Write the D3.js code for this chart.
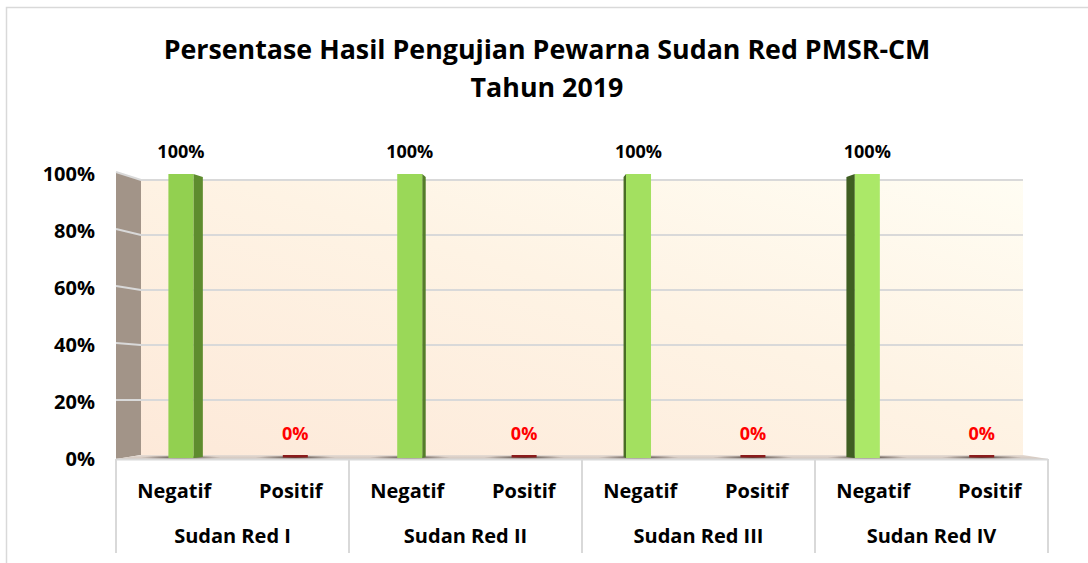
<!DOCTYPE html>
<html>
<head>
<meta charset="utf-8">
<script src="https://cdn.jsdelivr.net/npm/d3@7/dist/d3.min.js"></script>
<style>
  html, body { margin: 0; padding: 0; background: #fff; }
  svg text { font-family: "Open Sans", "Noto Sans", sans-serif; font-weight: bold; }
</style>
</head>
<body>
<svg id="chart" width="1088" height="563"></svg>
<script>
// ── data ──
const titleLines = ['Persentase Hasil Pengujian Pewarna Sudan Red PMSR-CM', 'Tahun 2019'];
const groups = ['Sudan Red I', 'Sudan Red II', 'Sudan Red III', 'Sudan Red IV'];
const subcats = ['Negatif', 'Positif'];
const negatif = [100, 100, 100, 100];
const positif = [0, 0, 0, 0];
const yTicks = [0, 20, 40, 60, 80, 100];

const svg = d3.select('#chart');
const defs = svg.append('defs');

// chart frame
svg.append('rect').attr('x', 6.5).attr('y', 7.5).attr('width', 1100).attr('height', 600)
  .attr('fill', '#fff').attr('stroke', '#d9d9d9').attr('stroke-width', 1.5);

// front plane (axes) and back wall
const front = { x0: 116, x1: 1048 };
const back = { x0: 141, x1: 1023 };
const yF = d3.scaleLinear().domain([0, 100]).range([459, 174]);
const yB = d3.scaleLinear().domain([0, 100]).range([455, 180]);

const xGroup = d3.scaleBand().domain(groups).range([front.x0, front.x1]).padding(0);
const xSub = d3.scaleBand().domain(subcats).range([0, xGroup.bandwidth()]).padding(0);

// perspective: things further back pull toward the vanishing point
const vx = 544, depthK = 0.982;
const proj = x => vx + (x - vx) * depthK;

// gradients
const wallGrad = defs.append('linearGradient').attr('id', 'wall')
  .attr('x1', 0).attr('y1', 1).attr('x2', 1).attr('y2', 0);
wallGrad.append('stop').attr('offset', '0%').attr('stop-color', '#fde9d9');
wallGrad.append('stop').attr('offset', '55%').attr('stop-color', '#fef3e4');
wallGrad.append('stop').attr('offset', '100%').attr('stop-color', '#fffdf3');

const floorGrad = defs.append('linearGradient').attr('id', 'floor')
  .attr('x1', 0).attr('y1', 0).attr('x2', 0).attr('y2', 1);
floorGrad.append('stop').attr('offset', '0%').attr('stop-color', '#e6dcd4');
floorGrad.append('stop').attr('offset', '100%').attr('stop-color', '#cfc3ba');

const shadowGrad = defs.append('radialGradient').attr('id', 'shadow');
shadowGrad.append('stop').attr('offset', '0%').attr('stop-color', '#3a2f2a').attr('stop-opacity', 0.85);
shadowGrad.append('stop').attr('offset', '100%').attr('stop-color', '#3a2f2a').attr('stop-opacity', 0);

const g = svg.append('g');

// back wall
g.append('rect').attr('x', back.x0).attr('y', yB(100))
  .attr('width', back.x1 - back.x0).attr('height', yB(0) - yB(100))
  .attr('fill', 'url(#wall)');

// side wall
g.append('path')
  .attr('d', `M${front.x0},${yF(100) - 2} L${back.x0},${yB(100)} L${back.x0},${yB(0)} L${front.x0},${yF(0)} Z`)
  .attr('fill', '#a29488');

// floor
g.append('path')
  .attr('d', `M${front.x0},${yF(0)} L${back.x0},${yB(0)} L${back.x1},${yB(0)} L${front.x1},${yF(0)} Z`)
  .attr('fill', 'url(#floor)');

// gridlines (back wall + side wall)
yTicks.forEach(t => {
  if (t === 0) return;
  g.append('path')
    .attr('d', `M${front.x0},${yF(t) - 2} L${back.x0},${yB(t)} L${back.x1},${yB(t)}`)
    .attr('fill', 'none').attr('stroke', '#d9d9d9').attr('stroke-width', 2);
});

// y axis labels
g.selectAll('.ylab').data(yTicks).enter().append('text')
  .attr('class', 'ylab')
  .attr('x', 95).attr('y', d => yF(d) + 7)
  .attr('text-anchor', 'end').attr('font-size', 20).attr('fill', '#000')
  .text(d => d + '%');

// bars
const barW = 25;
groups.forEach((grp, i) => {
  const gx = xGroup(grp);
  [negatif[i], positif[i]].forEach((v, j) => {
    const cx = proj(gx + xSub(subcats[j]) + xSub.bandwidth() / 2);
    const x0 = cx - barW / 2, x1 = cx + barW / 2;
    const yTop = yF(v), yBot = yF(0) - 1;

    // floor shadow
    g.append('ellipse').attr('cx', cx).attr('cy', yBot - 0.5)
      .attr('rx', barW * 1.6).attr('ry', 2.2).attr('fill', 'url(#shadow)');

    if (v <= 0) {
      g.append('rect').attr('x', x0).attr('y', yBot - 3).attr('width', barW).attr('height', 2.5)
        .attr('fill', '#8b1c1c');
      g.append('text').attr('x', cx).attr('y', yF(0) - 19)
        .attr('text-anchor', 'middle').attr('font-size', 18).attr('fill', '#ff0000')
        .text(v + '%');
      return;
    }

    const side = (vx - cx) * 0.026; // >0: right face visible, <0: left face
    const light = d3.interpolateRgb('#92d050', '#abe868')(i / (groups.length - 1));
    const dark = d3.interpolateRgb('#5e8c2e', '#3f5e22')(i / (groups.length - 1));
    if (side > 0.5) {
      g.append('path')
        .attr('d', `M${x1},${yTop} L${x1 + side},${yTop + 3} L${x1 + side},${yBot - 1} L${x1},${yBot} Z`)
        .attr('fill', dark);
    } else if (side < -0.5) {
      g.append('path')
        .attr('d', `M${x0},${yTop} L${x0 + side},${yTop + 3} L${x0 + side},${yBot - 1} L${x0},${yBot} Z`)
        .attr('fill', dark);
    }
    g.append('rect').attr('x', x0).attr('y', yTop).attr('width', barW).attr('height', yBot - yTop)
      .attr('fill', light);

    g.append('text').attr('x', cx).attr('y', yTop - 16)
      .attr('text-anchor', 'middle').attr('font-size', 18).attr('fill', '#000')
      .text(v + '%');
  });
});

// category axis
g.append('line').attr('x1', front.x0).attr('x2', front.x1).attr('y1', yF(0) + 0.5).attr('y2', yF(0) + 0.5)
  .attr('stroke', '#d9d9d9').attr('stroke-width', 2);
const seps = groups.map(d => xGroup(d)).concat([front.x1]);
g.selectAll('.sep').data(seps).enter().append('line')
  .attr('x1', d => d).attr('x2', d => d).attr('y1', yF(0)).attr('y2', 553)
  .attr('stroke', '#d9d9d9').attr('stroke-width', 2);

groups.forEach(grp => {
  const gx = xGroup(grp);
  subcats.forEach(s => {
    g.append('text').attr('x', gx + xSub(s) + xSub.bandwidth() / 2).attr('y', 498)
      .attr('text-anchor', 'middle').attr('font-size', 20).attr('fill', '#000')
      .text(s);
  });
  g.append('text').attr('x', gx + xGroup.bandwidth() / 2).attr('y', 543)
    .attr('text-anchor', 'middle').attr('font-size', 20).attr('fill', '#000')
    .text(grp);
});

// title
svg.selectAll('.title').data(titleLines).enter().append('text')
  .attr('class', 'title')
  .attr('x', 547).attr('y', (d, i) => 59 + i * 38)
  .attr('text-anchor', 'middle').attr('font-size', 26.8).attr('fill', '#000')
  .text(d => d);
</script>
</body>
</html>
